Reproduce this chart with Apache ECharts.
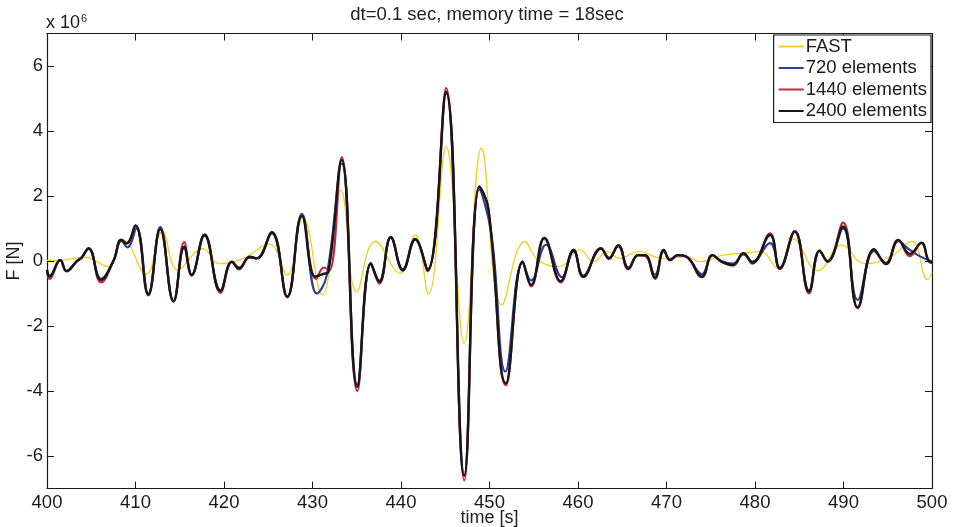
<!DOCTYPE html>
<html>
<head>
<meta charset="utf-8">
<script src="https://cdn.jsdelivr.net/npm/echarts/dist/echarts.min.js"></script>
<style>
  html, body { margin: 0; padding: 0; background: #fff; }
  #chart { width: 953px; height: 527px; }
</style>
</head>
<body>
<div id="chart"></div>
<script>
// Force history F(t) in units of 1e6 N, sampled at the turning points of each trace.
const seriesNames = ['FAST', '720 elements', '1440 elements', '2400 elements'];
const xTicks = [400, 410, 420, 430, 440, 450, 460, 470, 480, 490, 500];
const yTicks = [-6, -4, -2, 0, 2, 4, 6];

const fastForce = [
  [400, 0.02], [401.5, 0.02], [404.2, 0.12], [406.9, -0.17], [408.6, 0.66],
  [411.2, -0.4], [413.0, 0.9], [414.8, -0.27], [417.6, 0.38], [419.5, -0.08],
  [422.2, 0.08], [425.1, 0.52], [427.15, -0.43], [428.9, 1.35], [431.1, -1.05],
  [433.2, 2.18], [435.0, -0.94], [437.1, 0.6], [439.9, -0.38], [441.6, 0.8],
  [443.1, -1.02], [445.1, 3.52], [447.15, -2.53], [449.1, 3.47], [451.4, -1.35],
  [454.0, 0.6], [455.5, 0.03], [457.9, -0.17], [460.2, 0.34], [461.8, -0.02],
  [463.3, 0.29], [464.7, 0.08], [466.8, 0.29], [469.6, 0.08], [472.3, 0.13],
  [473.8, -0.02], [476.4, 0.18], [478.7, 0.24], [480.6, 0.29], [482.6, -0.23],
  [484.3, 0.68], [487.1, -0.3], [489.8, 0.49], [492.4, -0.08], [495.3, 0.13],
  [497.7, 0.6], [499.5, -0.57], [500, -0.35]
];

const elem720Force = [
  [400, -0.26], [400.3, -0.45], [401.5, 0.03], [402.2, -0.3], [403.4, 0.0],
  [403.9, 0.1], [404.7, 0.38], [406.1, -0.55], [407.5, 0.0], [408.4, 0.62],
  [409.1, 0.42], [410.1, 1.0], [411.45, -1.0], [412.8, 1.05], [414.3, -1.25],
  [415.5, 0.4], [416.35, -0.42], [417.8, 0.78], [419.6, -0.9], [420.9, -0.03],
  [421.7, -0.2], [422.9, 0.1], [423.7, 0.08], [425.4, 0.85], [427.15, -1.1],
  [428.8, 1.45], [430.5, -1.0], [431.6, -0.45], [433.3, 3.0], [435.06, -3.8],
  [436.6, -0.1], [437.55, -0.6], [438.85, 0.72], [440.2, -0.26], [441.6, 0.66],
  [443.0, -0.26], [445.1, 5.15], [447.15, -6.6], [448.85, 2.2], [450.2, 0.85],
  [451.8, -3.4], [453.75, -0.05], [454.7, -0.6], [456.4, 0.5], [458.2, -0.5],
  [459.5, 0.3], [460.6, -0.45], [462.6, 0.38], [463.5, 0.1], [464.55, 0.45],
  [465.7, -0.2], [466.8, 0.18], [467.6, 0.16], [468.7, -0.42], [469.7, 0.3],
  [470.4, 0.05], [471.3, 0.18], [472.3, 0.12], [474.0, -0.4], [475.2, 0.18],
  [476.2, 0.0], [477.5, -0.08], [478.7, 0.2], [479.7, -0.02], [481.7, 0.55],
  [482.8, -0.2], [484.5, 0.92], [486.1, -0.9], [487.3, 0.3], [488.2, 0.0],
  [489.95, 1.0], [491.6, -1.2], [493.45, 0.3], [494.8, -0.06], [496.2, 0.62],
  [497.2, 0.4], [498.6, 0.15], [500, -0.02]
];

const elem1440Force = [
  [400, -0.3], [400.3, -0.55], [401.5, 0.03], [402.2, -0.32], [403.4, 0.0],
  [403.9, 0.1], [404.7, 0.4], [406.1, -0.66], [407.5, 0.0], [408.4, 0.66],
  [409.0, 0.55], [410.0, 1.1], [411.45, -1.06], [412.8, 0.98], [414.3, -1.25],
  [415.5, 0.58], [416.35, -0.45], [417.8, 0.82], [419.6, -0.98], [420.9, -0.02],
  [421.7, -0.26], [422.9, 0.13], [423.7, 0.08], [425.4, 0.9], [427.15, -1.12],
  [428.8, 1.4], [430.4, -0.55], [431.3, -0.2], [431.9, -0.3], [433.3, 3.2],
  [435.06, -4.0], [436.6, -0.08], [437.55, -0.7], [438.85, 0.74], [440.2, -0.3],
  [441.6, 0.68], [443.0, -0.32], [445.1, 5.32], [447.15, -6.75], [448.85, 2.3],
  [449.87, 1.6], [451.86, -3.82], [453.75, -0.02], [454.7, -0.78], [456.2, 0.72],
  [458.05, -0.66], [459.5, 0.34], [460.6, -0.5], [462.6, 0.4], [463.5, 0.06],
  [464.55, 0.48], [465.7, -0.26], [466.8, 0.18], [467.6, 0.16], [468.7, -0.55],
  [469.7, 0.34], [470.4, 0.02], [471.3, 0.18], [472.3, 0.12], [474.0, -0.5],
  [475.2, 0.18], [476.2, -0.02], [477.5, -0.14], [478.7, 0.24], [479.7, -0.08],
  [481.7, 0.85], [482.8, -0.25], [484.5, 0.92], [486.1, -1.0], [487.3, 0.32],
  [488.2, -0.02], [489.95, 1.18], [491.6, -1.45], [493.45, 0.36], [494.8, -0.1],
  [496.2, 0.62], [497.5, 0.15], [498.8, 0.56], [499.6, 0.0], [500, -0.06]
];

const elem2400Force = [
  [400, -0.28], [400.3, -0.48], [401.5, 0.03], [402.2, -0.31], [403.4, 0.0],
  [403.9, 0.1], [404.7, 0.39], [406.1, -0.58], [407.5, 0.0], [408.4, 0.65],
  [409.0, 0.54], [410.0, 1.09], [411.45, -1.03], [412.8, 0.98], [414.3, -1.23],
  [415.5, 0.44], [416.35, -0.43], [417.8, 0.8], [419.6, -0.92], [420.9, -0.02],
  [421.7, -0.23], [422.9, 0.13], [423.7, 0.08], [425.4, 0.88], [427.15, -1.1],
  [428.8, 1.39], [430.3, -0.48], [431.2, -0.4], [431.8, -0.33], [433.3, 3.11],
  [435.06, -3.87], [436.6, -0.07], [437.55, -0.64], [438.85, 0.73], [440.2, -0.28],
  [441.6, 0.67], [443.0, -0.28], [445.1, 5.21], [447.15, -6.6], [448.85, 2.29],
  [449.87, 1.62], [451.86, -3.76], [453.75, -0.02], [454.7, -0.74], [456.2, 0.7],
  [458.05, -0.62], [459.5, 0.34], [460.6, -0.48], [462.6, 0.39], [463.5, 0.08],
  [464.55, 0.49], [465.7, -0.23], [466.8, 0.18], [467.6, 0.18], [468.7, -0.51],
  [469.7, 0.34], [470.4, 0.03], [471.3, 0.18], [472.3, 0.13], [474.0, -0.48],
  [475.2, 0.18], [476.2, -0.02], [477.5, -0.12], [478.7, 0.24], [479.7, -0.05],
  [481.7, 0.8], [482.8, -0.23], [484.5, 0.9], [486.1, -0.94], [487.3, 0.32],
  [488.2, -0.02], [489.95, 1.06], [491.6, -1.43], [493.45, 0.36], [494.8, -0.09],
  [496.2, 0.65], [497.5, 0.22], [498.8, 0.56], [499.6, 0.01], [500, -0.05]
];

const FONT = '"Liberation Sans", Arial, Helvetica, sans-serif';
const AXIS_COLOR = '#1a1a1a';

const chart = echarts.init(document.getElementById('chart'), null, { renderer: 'canvas' });

function lineSeries(name, data, color, width) {
  return {
    name: name,
    type: 'line',
    data: data,
    xAxisIndex: 0,
    yAxisIndex: 0,
    showSymbol: false,
    smooth: 0.45,
    animation: false,
    lineStyle: { color: color, width: width },
    itemStyle: { color: color }
  };
}

const boxAxisCommon = {
  axisLine: { show: true, onZero: false, lineStyle: { color: AXIS_COLOR, width: 1.2 } },
  splitLine: { show: false }
};

chart.setOption({
  backgroundColor: '#ffffff',
  animation: false,
  title: {
    text: 'dt=0.1 sec, memory time = 18sec',
    left: 482,
    textAlign: 'center',
    top: 0,
    textStyle: { fontFamily: FONT, fontSize: 18.5, fontWeight: 'normal', color: '#222' }
  },
  grid: { left: 47, right: 21, top: 33.5, bottom: 38.5, containLabel: false, outerBoundsMode: 'none' },
  legend: {
    data: seriesNames,
    orient: 'vertical',
    right: 22,
    top: 35,
    icon: 'rect',
    itemWidth: 25,
    itemHeight: 2,
    itemGap: 2.5,
    padding: [2, 4, 2, 5],
    borderColor: AXIS_COLOR,
    borderWidth: 1.2,
    backgroundColor: '#ffffff',
    textStyle: { fontFamily: FONT, fontSize: 18.5, color: '#1a1a1a', padding: [0, 0, 0, -3] }
  },
  xAxis: [
    Object.assign({
      type: 'value',
      position: 'bottom',
      min: 400,
      max: 500,
      interval: 10,
      name: 'time [s]',
      nameLocation: 'middle',
      nameGap: 20.5,
      nameMoveOverlap: false,
      nameTextStyle: { fontFamily: FONT, fontSize: 18, color: '#222' },
      axisTick: { show: true, inside: true, length: 7, lineStyle: { color: AXIS_COLOR } },
      axisLabel: {
        margin: 5, fontFamily: FONT, fontSize: 18.5, color: '#1a1a1a',
        customValues: xTicks
      }
    }, boxAxisCommon),
    Object.assign({
      type: 'value',
      position: 'top',
      min: 400,
      max: 500,
      interval: 10,
      axisTick: { show: true, inside: true, length: 7, lineStyle: { color: AXIS_COLOR } },
      axisLabel: { show: false }
    }, boxAxisCommon)
  ],
  yAxis: [
    Object.assign({
      type: 'value',
      position: 'left',
      min: -7,
      max: 7,
      name: 'F [N]',
      nameLocation: 'middle',
      nameRotate: 90,
      nameGap: 24,
      nameMoveOverlap: false,
      nameTextStyle: { fontFamily: FONT, fontSize: 18, color: '#222' },
      axisTick: { show: true, inside: true, length: 7, customValues: yTicks, lineStyle: { color: AXIS_COLOR } },
      axisLabel: {
        margin: 4, fontFamily: FONT, fontSize: 18.5, color: '#1a1a1a',
        customValues: yTicks
      }
    }, boxAxisCommon),
    Object.assign({
      type: 'value',
      position: 'right',
      min: -7,
      max: 7,
      axisTick: { show: true, inside: true, length: 7, customValues: yTicks, lineStyle: { color: AXIS_COLOR } },
      axisLabel: { show: false }
    }, boxAxisCommon)
  ],
  graphic: [{
    type: 'text',
    left: 46,
    top: 13,
    style: {
      text: 'x 10{sup|6}',
      font: '18px ' + FONT,
      fill: '#1a1a1a',
      rich: { sup: { fontSize: 11, verticalAlign: 'top', padding: [0, 0, 10, 1], fontFamily: FONT } }
    }
  }],
  series: [
    lineSeries(seriesNames[0], fastForce, '#f2cf1d', 1.3),
    lineSeries(seriesNames[1], elem720Force, '#2a3f9e', 2.2),
    lineSeries(seriesNames[2], elem1440Force, '#c0283e', 2.2),
    lineSeries(seriesNames[3], elem2400Force, '#161616', 2.4)
  ]
});
</script>
</body>
</html>
